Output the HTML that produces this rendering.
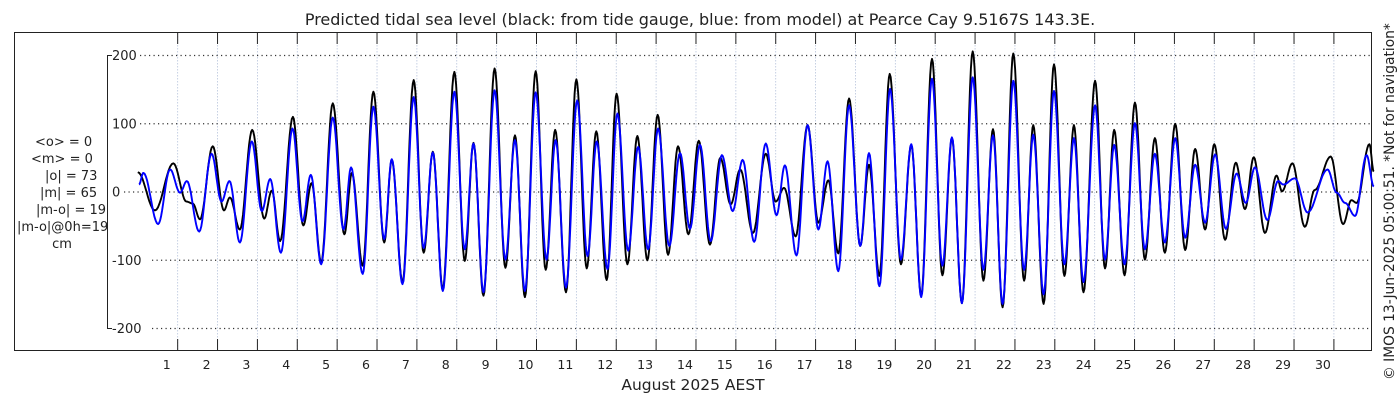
<!DOCTYPE html>
<html><head><meta charset="utf-8"><style>
body{margin:0;background:#fff;}
svg{display:block;font-family:"DejaVu Sans","Liberation Sans",sans-serif;}
</style></head><body>
<svg id="chart" width="1400" height="400" xmlns="http://www.w3.org/2000/svg">
<rect x="0" y="0" width="1400" height="400" fill="#fff"/>
<text x="700" y="25" font-size="16" text-anchor="middle" fill="#222">Predicted tidal sea level (black: from tide gauge, blue: from model) at Pearce Cay 9.5167S 143.3E.</text>
<rect x="14.5" y="32.5" width="1357" height="318" fill="none" stroke="#222" stroke-width="1"/>
<g id="grid"></g>
<g id="axes"></g>
<g id="series"></g>
<g font-size="13" fill="#222">
<text x="35" y="146">&lt;o&gt; = 0</text>
<text x="31" y="163">&lt;m&gt; = 0</text>
<text x="45" y="180">|o| = 73</text>
<text x="40" y="197">|m| = 65</text>
<text x="36" y="214">|m-o| = 19</text>
<text x="17" y="231">|m-o|@0h=19</text>
<text x="62" y="248" text-anchor="middle">cm</text>
</g>
<text x="693" y="390" font-size="15.5" text-anchor="middle" fill="#222">August 2025 AEST</text>
<text transform="translate(1394,380) rotate(-90)" font-size="13.8" fill="#222">© IMOS 13-Jun-2025 05:00:51. *Not for navigation*</text>
</svg>
<script>
const yTicks=[200,100,0,-100,-200];
const dayLabels=[1,2,3,4,5,6,7,8,9,10,11,12,13,14,15,16,17,18,19,20,21,22,23,24,25,26,27,28,29,30];
const obsT=[0,0.43,0.89,1.22,1.38,1.56,1.88,2.16,2.31,2.56,2.87,3.17,3.36,3.57,3.89,4.15,4.36,4.6,4.89,5.18,5.37,5.64,5.91,6.18,6.37,6.64,6.92,7.17,7.4,7.65,7.94,8.2,8.42,8.67,8.95,9.22,9.46,9.71,9.98,10.23,10.47,10.74,11.0,11.26,11.5,11.76,12.01,12.28,12.53,12.78,13.04,13.3,13.55,13.81,14.07,14.35,14.61,14.87,15.11,15.43,15.75,16.0,16.21,16.5,16.8,17.07,17.32,17.57,17.84,18.12,18.34,18.6,18.86,19.14,19.4,19.65,19.92,20.18,20.42,20.67,20.94,21.21,21.45,21.69,21.96,22.23,22.46,22.72,22.98,23.24,23.48,23.72,24.01,24.26,24.49,24.75,25.01,25.26,25.51,25.76,26.02,26.27,26.52,26.77,27.0,27.27,27.54,27.77,27.99,28.27,28.56,28.7,28.96,29.27,29.52,29.92,30.23,30.44,30.57,30.89,31.0];
const obsV=[29,-27,42,-14,-17,-40,67,-27,-8,-55,91,-39,2,-72,110,-49,13,-103,130,-62,28,-108,147,-74,47,-132,164,-89,59,-142,176,-101,72,-152,181,-111,83,-154,177,-114,91,-147,165,-112,89,-129,144,-106,82,-100,113,-92,67,-62,75,-77,50,-18,33,-60,56,-14,6,-65,98,-45,17,-90,137,-79,40,-123,173,-106,69,-152,195,-122,79,-163,206,-130,92,-169,203,-130,98,-164,187,-123,98,-147,163,-112,91,-122,131,-99,79,-89,100,-85,63,-55,70,-70,43,-25,51,-60,24,1,42,-51,3,52,-47,-12,-16,70,30];
const modT=[0.03,0.14,0.51,0.81,1.06,1.23,1.54,1.85,2.1,2.3,2.56,2.86,3.11,3.32,3.59,3.88,4.13,4.34,4.6,4.89,5.16,5.35,5.64,5.91,6.18,6.37,6.64,6.92,7.17,7.4,7.65,7.94,8.2,8.42,8.67,8.95,9.22,9.46,9.71,9.98,10.25,10.48,10.74,11.02,11.28,11.51,11.78,12.03,12.3,12.55,12.8,13.05,13.33,13.6,13.85,14.1,14.37,14.65,14.92,15.17,15.46,15.75,16.02,16.23,16.52,16.8,17.07,17.3,17.57,17.84,18.12,18.34,18.6,18.87,19.14,19.4,19.65,19.92,20.18,20.42,20.67,20.94,21.21,21.45,21.69,21.96,22.23,22.46,22.72,22.98,23.24,23.48,23.72,24.01,24.26,24.49,24.75,25.01,25.26,25.51,25.76,26.02,26.27,26.52,26.77,27.02,27.29,27.56,27.79,28.02,28.33,28.6,28.73,29.02,29.34,29.84,30.07,30.28,30.53,30.82,31.0];
const modV=[11,28,-47,33,-1,16,-58,56,-14,16,-74,74,-28,19,-89,93,-43,25,-106,109,-55,36,-120,125,-69,48,-135,139,-82,58,-145,147,-84,71,-147,149,-99,76,-145,146,-99,76,-140,134,-94,74,-113,115,-86,66,-84,93,-79,57,-54,69,-72,54,-28,47,-73,71,-34,39,-93,98,-55,45,-116,127,-79,57,-138,151,-99,70,-154,166,-108,80,-163,168,-114,83,-164,163,-114,84,-150,148,-106,79,-132,127,-99,69,-106,101,-84,56,-74,79,-67,40,-45,55,-54,27,-16,36,-41,16,11,20,-30,33,-1,-16,-35,54,8];

const NS='http://www.w3.org/2000/svg';
const X0=137.8, DAYW=39.87, Y0=192, YS=0.6825;
function xs(t){return X0+t*DAYW;}
function ys(v){return Y0-v*YS;}
function mk(tag,attrs,parent){const e=document.createElementNS(NS,tag);for(const k in attrs)e.setAttribute(k,attrs[k]);parent.appendChild(e);return e;}
const grid=document.getElementById('grid'), axes=document.getElementById('axes'), series=document.getElementById('series');

for(let d=1;d<=30;d++){
  const x=xs(d);
  const g=mk('line',{x1:x,x2:x,y1:33,y2:350,stroke:'#b8c4dc','stroke-width':0.8,'stroke-dasharray':'1.5,1.5'},grid);
  
  
  const t1=mk('line',{x1:x,x2:x,y1:33,y2:44,stroke:'#222','stroke-width':1},axes);
  
  
  const t2=mk('line',{x1:x,x2:x,y1:339,y2:350,stroke:'#222','stroke-width':1},axes);
  
  
}
dayLabels.forEach(function(d){
  const lb=mk('text',{x:xs(d)-11,y:369,'font-size':12.5,'text-anchor':'middle',fill:'#222'},axes);
  
  
  lb.textContent=String(d);
});
const ya=mk('path',{d:'M112,'+ys(200)+' H107.5 V'+ys(-200)+' H112',fill:'none',stroke:'#222','stroke-width':1},axes);


yTicks.forEach(function(v){
  const y=ys(v);
  const gl=mk('line',{x1:v===0?124:(v<0?152:140),x2:1371,y1:y,y2:y,stroke:'#333','stroke-width':1.2,'stroke-dasharray':'1.2,3.3'},grid);
  
  
  const lb=mk('text',{x:112,y:y+4.5,'font-size':13,fill:'#222'},axes);
  
  
  lb.textContent=String(v);
});
function curve(T,V){
  let d='M'+xs(T[0]).toFixed(1)+','+ys(V[0]).toFixed(1);
  for(let i=0;i<T.length-1;i++){
    const n=12;
    for(let k=1;k<=n;k++){
      const f=k/n, t=T[i]+(T[i+1]-T[i])*f;
      const v=V[i]+(V[i+1]-V[i])*(1-Math.cos(Math.PI*f))/2;
      d+=' L'+xs(t).toFixed(1)+','+ys(v).toFixed(1);
    }
  }
  return d;
}
const ob=mk('path',{d:curve(obsT,obsV),fill:'none',stroke:'#000','stroke-width':1.9,'stroke-linejoin':'round'},series);


const md=mk('path',{d:curve(modT,modV),fill:'none',stroke:'#0000ff','stroke-width':1.9,'stroke-linejoin':'round'},series);


</script>
</body></html>
